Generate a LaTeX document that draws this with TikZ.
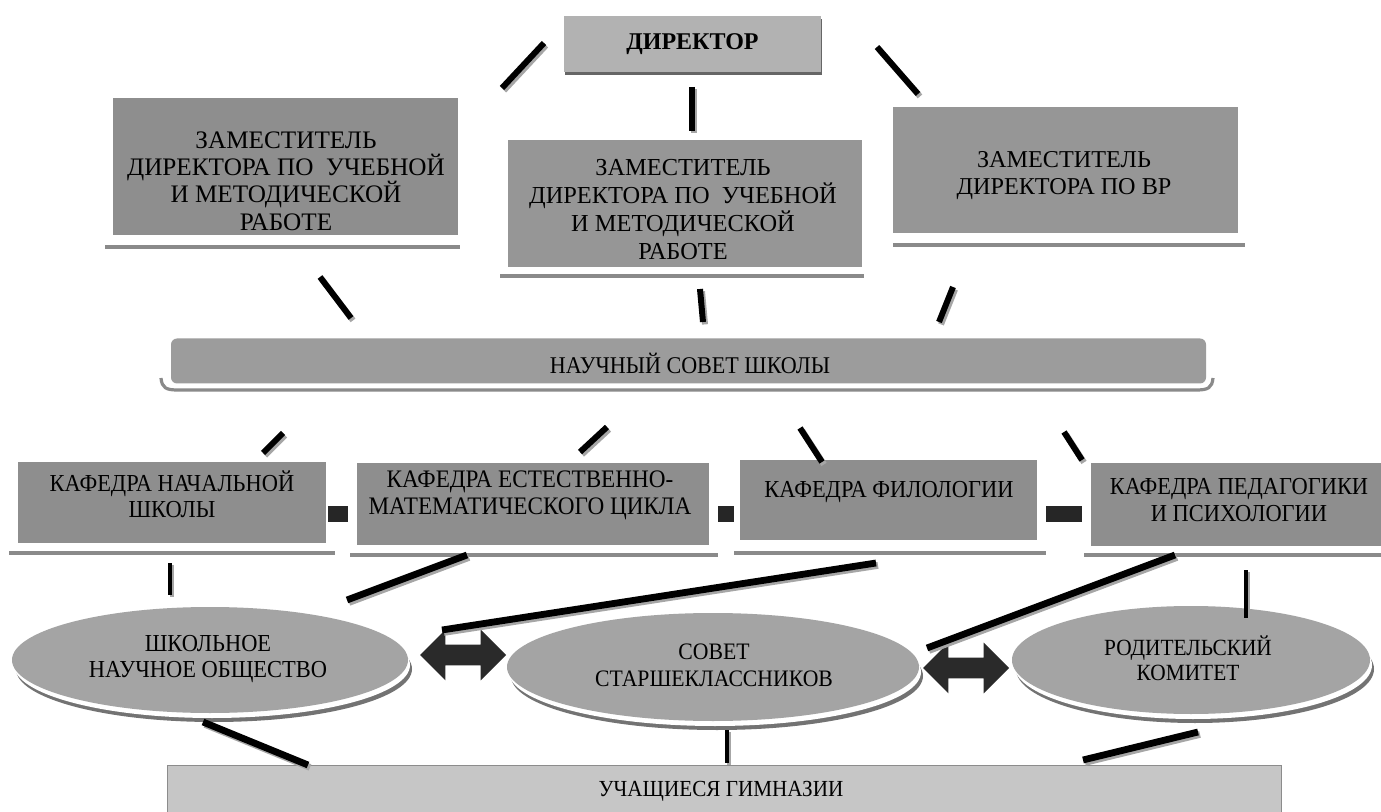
\documentclass[tikz,border=0pt]{standalone}
\usepackage{fontspec}
\setmainfont{Liberation Serif}
\newfontfamily\condA[FakeStretch=0.92]{Liberation Serif}
\newfontfamily\condB[FakeStretch=0.85]{Liberation Serif}
\usetikzlibrary{shapes.geometric,shapes.arrows}
\definecolor{fdir}{HTML}{B2B2B2}
\definecolor{fdep}{HTML}{969696}
\definecolor{fdepa}{HTML}{8E8E8E}
\definecolor{fcou}{HTML}{9C9C9C}
\definecolor{fkaf}{HTML}{8E8E8E}
\definecolor{fell}{HTML}{A4A4A4}
\definecolor{fbot}{HTML}{C6C6C6}
\definecolor{farr}{HTML}{2A2A2A}
\definecolor{uln}{HTML}{8A8A8A}
\tikzset{
  boxnode/.style={rectangle, inner sep=0pt, draw=none, fill=#1},
  shadownode/.style={rectangle, inner sep=0pt, draw=none, fill=black!60},
  ellnode/.style={ellipse, inner sep=0pt, draw=none, fill=#1},
  txt/.style={align=center, inner sep=0pt, text=black},
  uline/.style={line width=1.6pt, draw=uln},
  conn/.style={line width=#1, draw=black, line cap=butt,
     preaction={draw=black!35, line width=#1, transform canvas={shift={(1pt,-1.2pt)}}}},
  dblarrow/.style={double arrow, fill=farr, draw=none, inner xsep=0pt, inner ysep=5pt,
     double arrow head extend=7.5pt, double arrow tip angle=90, minimum height=43pt},
  squarenode/.style={rectangle, inner sep=0pt, fill=black!85}
}
\begin{document}
\begin{tikzpicture}[x=0.5pt,y=-0.5pt]
\useasboundingbox[fill=white] (0,0) rectangle (1381,812);

% ---------------- Director ----------------
\node[shadownode, minimum width=128.5pt, minimum height=28pt] (dirsh) at (693.5,47) {};
\node[boxnode=fdir, minimum width=128.5pt, minimum height=28pt] (dir) at (692.5,44) {};
\node[txt, font=\fontsize{12}{14}\selectfont\bfseries] (dirt) at (dir) {ДИРЕКТОР};

% ---------------- Deputies ----------------
\node[boxnode=fdepa, minimum width=172.5pt, minimum height=68.5pt] (dep1) at (285.5,166.5) {};
\node[txt, font=\fontsize{12.6}{13.6}\selectfont] (dep1t) at (286,181) {ЗАМЕСТИТЕЛЬ\\ДИРЕКТОРА ПО\ \ УЧЕБНОЙ\\И МЕТОДИЧЕСКОЙ\\РАБОТЕ};
\coordinate (dep1ua) at (105,247); \coordinate (dep1ub) at (460,247);
\draw[uline] (dep1ua) -- (dep1ub);

\node[boxnode=fdep, minimum width=177pt, minimum height=63.5pt] (dep2) at (685,203.5) {};
\node[txt, font=\fontsize{12.2}{14}\selectfont] (dep2t) at (683,210) {ЗАМЕСТИТЕЛЬ\\ДИРЕКТОРА ПО\ \ УЧЕБНОЙ\\И МЕТОДИЧЕСКОЙ\\РАБОТЕ};
\coordinate (dep2ua) at (500,276); \coordinate (dep2ub) at (864,276);
\draw[uline] (dep2ua) -- (dep2ub);

\node[boxnode=fdep, minimum width=172.5pt, minimum height=63pt] (dep3) at (1065.5,170) {};
\node[txt, font=\fontsize{12.1}{13.5}\selectfont] (dep3t) at (1064,176) {ЗАМЕСТИТЕЛЬ\\ДИРЕКТОРА ПО ВР};
\coordinate (dep3ua) at (893,245); \coordinate (dep3ub) at (1245,245);
\draw[uline] (dep3ua) -- (dep3ub);

% ---------------- Council ----------------
\node[boxnode=fcou, rounded corners=3pt, minimum width=517.5pt, minimum height=22.5pt] (cou) at (688.5,361) {};
\node[txt, font=\condA\fontsize{12}{14}\selectfont] (cout) at (690,363) {НАУЧНЫЙ СОВЕТ ШКОЛЫ};
\coordinate (coua) at (161,378); \coordinate (coub) at (1213,378);
\draw[uline] (coua) .. controls (162,388) and (166,390) .. (178,390) -- (1196,390) .. controls (1208,390) and (1212,388) .. (coub);

% ---------------- Kafedras ----------------
\node[boxnode=fkaf, minimum width=154pt, minimum height=40.5pt] (k1) at (172,502.5) {};
\node[txt, font=\condA\fontsize{12.2}{13.2}\selectfont] (k1t) at (172,494) {КАФЕДРА НАЧАЛЬНОЙ\\ШКОЛЫ};
\coordinate (k1ua) at (9,553); \coordinate (k1ub) at (335,553);
\draw[uline] (k1ua) -- (k1ub);

\node[boxnode=fkaf, minimum width=176pt, minimum height=41pt] (k2) at (533,504) {};
\node[txt, font=\condA\fontsize{12.6}{13.6}\selectfont] (k2t) at (530,495) {КАФЕДРА ЕСТЕСТВЕННО-\\МАТЕМАТИЧЕСКОГО ЦИКЛА};
\coordinate (k2ua) at (350,555); \coordinate (k2ub) at (718,555);
\draw[uline] (k2ua) -- (k2ub);

\node[boxnode=fkaf, minimum width=148.5pt, minimum height=40pt] (k3) at (888.5,500) {};
\node[txt, font=\condA\fontsize{12.2}{13.2}\selectfont] (k3t) at (889,492) {КАФЕДРА ФИЛОЛОГИИ};
\coordinate (k3ua) at (734,553); \coordinate (k3ub) at (1046,553);
\draw[uline] (k3ua) -- (k3ub);

\node[boxnode=fkaf, minimum width=145pt, minimum height=41.5pt] (k4) at (1236,504.5) {};
\node[txt, font=\condA\fontsize{12.2}{13.2}\selectfont] (k4t) at (1239,500) {КАФЕДРА ПЕДАГОГИКИ\\И ПСИХОЛОГИИ};
\coordinate (k4ua) at (1084,555); \coordinate (k4ub) at (1381,555);
\draw[uline] (k4ua) -- (k4ub);

\node[squarenode, minimum width=10pt, minimum height=8pt] (s1) at (338,514) {};
\node[squarenode, minimum width=8pt, minimum height=8pt] (s2) at (726,514) {};
\node[squarenode, minimum width=18pt, minimum height=8pt] (s3) at (1064,514) {};

% ---------------- Ellipses ----------------
\node[ellnode=black!55, minimum width=198pt, minimum height=53pt] (e1s) at (214,669) {};
\node[ellnode=white, minimum width=198pt, minimum height=53pt] (e1w) at (212,665) {};
\node[ellnode=fell, minimum width=198pt, minimum height=53pt] (e1) at (210,660) {};
\node[txt, font=\condA\fontsize{12.2}{12.8}\selectfont] (e1t) at (208,659) {ШКОЛЬНОЕ\\НАУЧНОЕ ОБЩЕСТВО};

\node[ellnode=black!55, minimum width=206pt, minimum height=54pt] (e2s) at (717,676) {};
\node[ellnode=white, minimum width=206pt, minimum height=54pt] (e2w) at (715,672) {};
\node[ellnode=fell, minimum width=206pt, minimum height=54pt] (e2) at (713,667) {};
\node[txt, font=\condA\fontsize{11.8}{13.4}\selectfont] (e2t) at (714,665) {СОВЕТ\\СТАРШЕКЛАССНИКОВ};

\node[ellnode=black!55, minimum width=179pt, minimum height=54pt] (e3s) at (1195,669) {};
\node[ellnode=white, minimum width=179pt, minimum height=54pt] (e3w) at (1193,665) {};
\node[ellnode=fell, minimum width=179pt, minimum height=54pt] (e3) at (1191,660) {};
\node[txt, font=\condA\fontsize{11.6}{12.6}\selectfont] (e3t) at (1188,658) {РОДИТЕЛЬСКИЙ\\КОМИТЕТ};

% ---------------- Double arrows ----------------
\node[dblarrow] (a1) at (463,655) {};
\node[dblarrow] (a2) at (966,668) {};

% ---------------- Bottom box ----------------
\node[boxnode=fbot, draw=black!45, line width=0.5pt, minimum width=557pt, minimum height=25pt] (bot) at (724,790) {};
\node[txt, font=\condA\fontsize{11.5}{14}\selectfont] (bott) at (721,791) {УЧАЩИЕСЯ ГИМНАЗИИ};

% ---------------- Connectors ----------------
\coordinate (c1a) at (502,88);   \coordinate (c1b) at (544,43);
\coordinate (c2a) at (877,47);   \coordinate (c2b) at (918,94);
\coordinate (c3a) at (692,87);   \coordinate (c3b) at (692,131);
\coordinate (c4a) at (320,277);  \coordinate (c4b) at (351,318);
\coordinate (c5a) at (700,289);  \coordinate (c5b) at (703,322);
\coordinate (c6a) at (953,287);  \coordinate (c6b) at (939,322);
\coordinate (c7a) at (263,453);  \coordinate (c7b) at (283,433);
\coordinate (c8a) at (580,452);  \coordinate (c8b) at (607,427);
\coordinate (c9a) at (800,428);  \coordinate (c9b) at (822,462);
\coordinate (c10a) at (1064,432); \coordinate (c10b) at (1082,460);
\coordinate (c11a) at (170,563); \coordinate (c11b) at (170,595);
\coordinate (c12a) at (347,600); \coordinate (c12b) at (467,555);
\coordinate (c13a) at (442,630); \coordinate (c13b) at (876,563);
\coordinate (c14a) at (927,648); \coordinate (c14b) at (1175,555);
\coordinate (c15a) at (1246,570); \coordinate (c15b) at (1246,618);
\coordinate (c16a) at (203,722); \coordinate (c16b) at (308,765);
\coordinate (c17a) at (727,730); \coordinate (c17b) at (727,763);
\coordinate (c18a) at (1083,760); \coordinate (c18b) at (1198,732);

\draw[conn=3pt] (c1a) -- (c1b);
\draw[conn=3pt] (c2a) -- (c2b);
\draw[conn=2.6pt] (c3a) -- (c3b);
\draw[conn=3pt] (c4a) -- (c4b);
\draw[conn=3pt] (c5a) -- (c5b);
\draw[conn=3pt] (c6a) -- (c6b);
\draw[conn=3pt] (c7a) -- (c7b);
\draw[conn=3pt] (c8a) -- (c8b);
\draw[conn=3pt] (c9a) -- (c9b);
\draw[conn=3pt] (c10a) -- (c10b);
\draw[conn=2pt] (c11a) -- (c11b);
\draw[conn=3.4pt] (c12a) -- (c12b);
\draw[conn=3.4pt] (c13a) -- (c13b);
\draw[conn=3.4pt] (c14a) -- (c14b);
\draw[conn=2pt] (c15a) -- (c15b);
\draw[conn=3.4pt] (c16a) -- (c16b);
\draw[conn=2pt] (c17a) -- (c17b);
\draw[conn=3.4pt] (c18a) -- (c18b);
\end{tikzpicture}
\end{document}
